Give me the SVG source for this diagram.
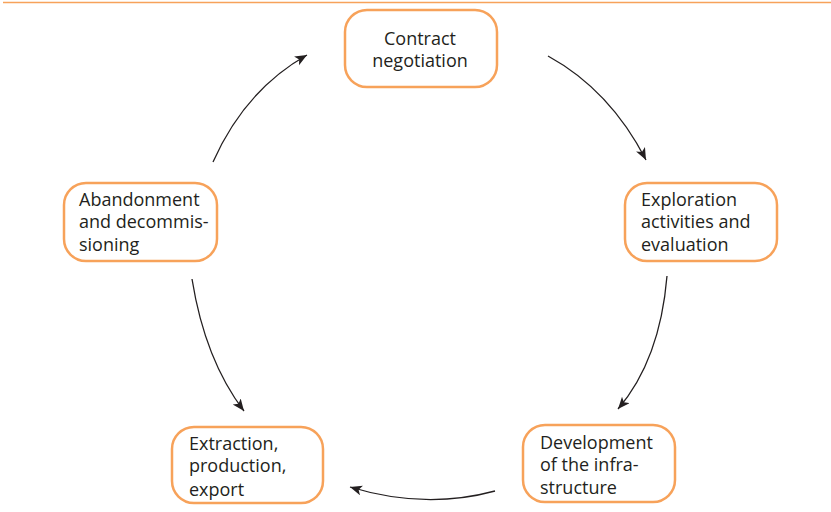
<svg xmlns="http://www.w3.org/2000/svg" width="831" height="512" viewBox="0 0 831 512">
<style>
.box{fill:#fff;stroke:#f7a25a;stroke-width:2.5}
.t{font-family:"Open Sans","Noto Sans",sans-serif;font-size:18px;fill:#231f20}
.c{fill:none;stroke:#231f20;stroke-width:1.3}
</style>
<defs>
<marker id="ah" markerUnits="userSpaceOnUse" markerWidth="14" markerHeight="12" refX="12" refY="5" orient="auto">
<path d="M0,0 L12,5 L0,10 L3,5 Z" fill="#231f20"/>
</marker>
</defs>
<rect width="831" height="512" fill="#fff"/>
<line x1="3" y1="2.5" x2="831" y2="2.5" stroke="#f7a25a" stroke-width="1.5"/>
<g id="connectors">
<path class="c" d="M213,162 Q245,90 307,55" marker-end="url(#ah)"/>
<path class="c" d="M548,56 Q610,90 646,160" marker-end="url(#ah)"/>
<path class="c" d="M667,276 Q660,360 618,409" marker-end="url(#ah)"/>
<path class="c" d="M495,491 Q425,510 350,487" marker-end="url(#ah)"/>
<path class="c" d="M192,279 Q205,360 244,411" marker-end="url(#ah)"/>
</g>
<g id="contract">
<rect class="box" x="345" y="10" width="152" height="77" rx="22"/>
<text class="t" text-anchor="middle"><tspan x="420" y="45">Contract</tspan><tspan x="420" y="67">negotiation</tspan></text>
</g>
<g id="exploration">
<rect class="box" x="625" y="183" width="152" height="78" rx="22"/>
<text class="t"><tspan x="641" y="206">Exploration</tspan><tspan x="641" y="228">activities and</tspan><tspan x="641" y="251">evaluation</tspan></text>
</g>
<g id="development">
<rect class="box" x="523" y="425" width="152" height="77" rx="22"/>
<text class="t"><tspan x="540" y="449">Development</tspan><tspan x="540" y="471">of the infra-</tspan><tspan x="540" y="494">structure</tspan></text>
</g>
<g id="extraction">
<rect class="box" x="172" y="427" width="151" height="76" rx="22"/>
<text class="t"><tspan x="189" y="450">Extraction,</tspan><tspan x="189" y="472">production,</tspan><tspan x="189" y="496">export</tspan></text>
</g>
<g id="abandonment">
<rect class="box" x="64" y="183" width="153" height="78" rx="22"/>
<text class="t"><tspan x="79" y="206">Abandonment</tspan><tspan x="79" y="228">and decommis-</tspan><tspan x="79" y="251">sioning</tspan></text>
</g>
</svg>
